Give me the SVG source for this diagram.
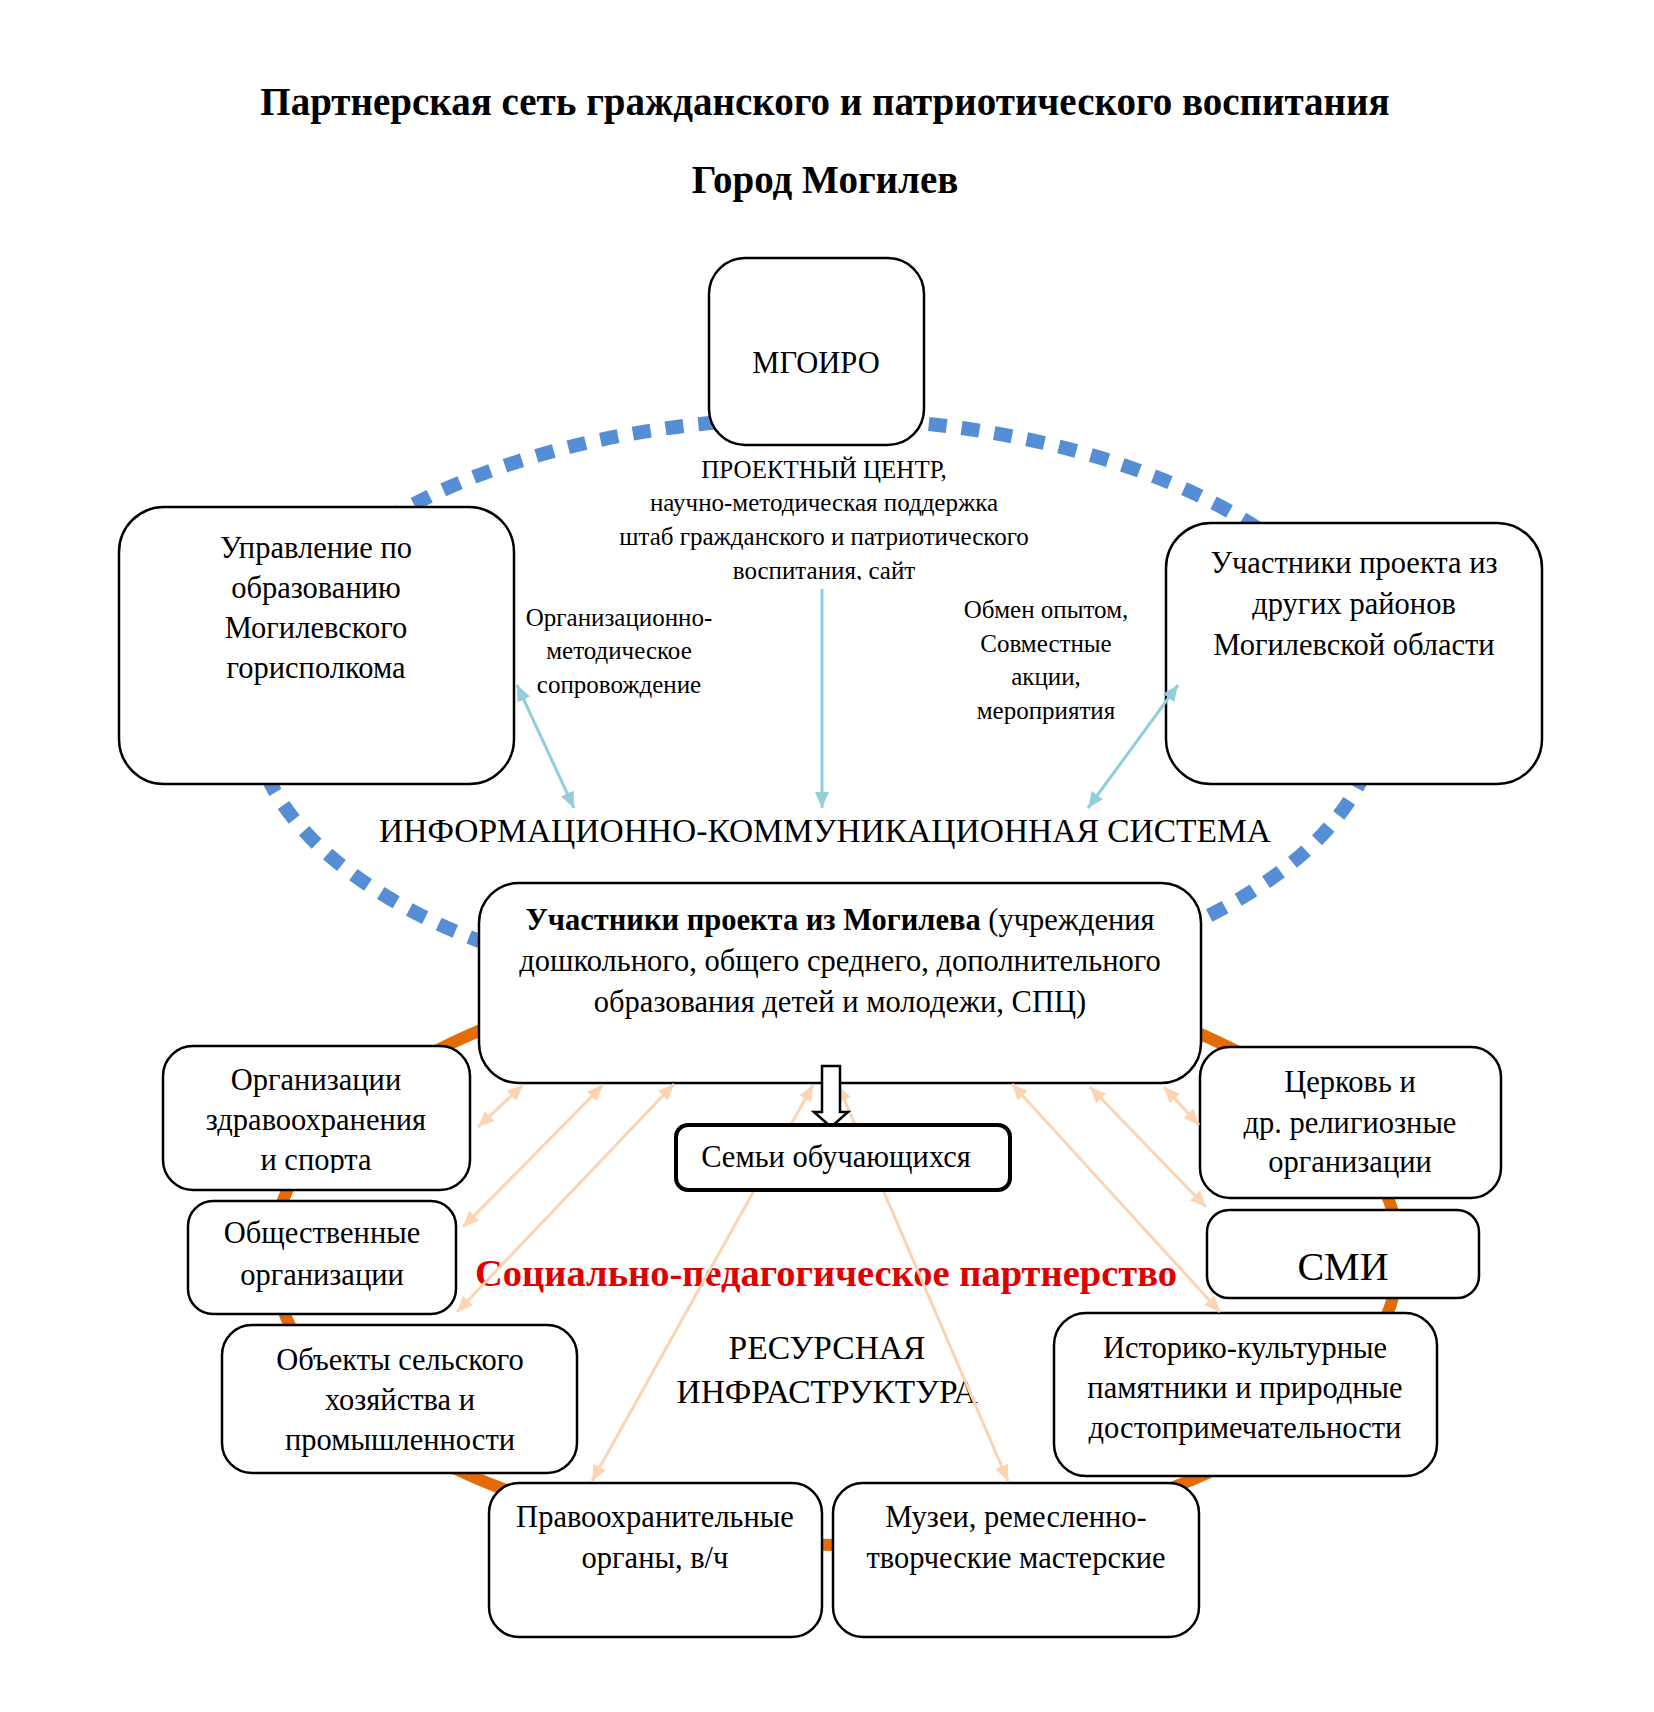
<svg xmlns="http://www.w3.org/2000/svg" width="1654" height="1712" viewBox="0 0 1654 1712">
<style>
text{font-family:"Liberation Serif","Times New Roman",serif;fill:#000;text-anchor:middle}
.t{font-size:39px;font-weight:bold}
.b{font-size:30.5px}
.s{font-size:25px}
.big{font-size:33.5px}
.box{fill:#fff;stroke:#000;stroke-width:2.5}
.blue{stroke:#92CDDC;stroke-width:3;fill:none}
.peach{stroke:#FBD4B4;stroke-width:3;fill:none}
</style>
<defs>
<marker id="ab" viewBox="0 0 16 14" refX="16" refY="7" markerWidth="16" markerHeight="14" markerUnits="userSpaceOnUse" orient="auto-start-reverse"><path d="M0,0 L16,7 L0,14 z" fill="#92CDDC"/></marker>
<marker id="ap" viewBox="0 0 16 14" refX="16" refY="7" markerWidth="16" markerHeight="14" markerUnits="userSpaceOnUse" orient="auto-start-reverse"><path d="M0,0 L16,7 L0,14 z" fill="#FBD4B4"/></marker>
<clipPath id="c1"><rect x="0" y="0" width="1654" height="580"/></clipPath>
<clipPath id="c2"><rect x="0" y="0" width="1654" height="1173"/></clipPath>
</defs>
<rect width="1654" height="1712" fill="#fff"/>
<g id="title">
<text class="t" x="825" y="115">Партнерская сеть гражданского и патриотического воспитания</text>
<text class="t" x="825" y="193">Город Могилев</text>
</g>
<g id="rings">
<ellipse cx="815" cy="708" rx="564" ry="290" fill="none" stroke="#558ED5" stroke-width="14" stroke-dasharray="18 15"/>
<ellipse cx="836" cy="1255" rx="563" ry="290" fill="none" stroke="#E36C09" stroke-width="12"/>
</g>
<g id="labels">
<g clip-path="url(#c1)">
<text class="s" x="824" y="478">ПРОЕКТНЫЙ ЦЕНТР,</text>
<text class="s" x="824" y="511">научно-методическая поддержка</text>
<text class="s" x="824" y="545">штаб гражданского и патриотического</text>
<text class="s" x="824" y="579">воспитания, сайт</text>
</g>
<text class="s" x="619" y="626">Организационно-</text>
<text class="s" x="619" y="659">методическое</text>
<text class="s" x="619" y="693">сопровождение</text>
<text class="s" x="1046" y="618">Обмен опытом,</text>
<text class="s" x="1046" y="652">Совместные</text>
<text class="s" x="1046" y="685">акции,</text>
<text class="s" x="1046" y="719">мероприятия</text>
<text class="big" x="825" y="842">ИНФОРМАЦИОННО-КОММУНИКАЦИОННАЯ СИСТЕМА</text>
<text x="826" y="1286" style="font-size:38.5px;font-weight:bold;fill:#E00000">Социально-педагогическое партнерство</text>
<text class="big" x="827" y="1359">РЕСУРСНАЯ</text>
<text class="big" x="827" y="1403">ИНФРАСТРУКТУРА</text>
</g>
<g id="mgoiro">
<rect class="box" x="709" y="258" width="215" height="187" rx="36"/>
<text class="b" x="816" y="373">МГОИРО</text>
</g>
<g id="upravlenie">
<rect class="box" x="119" y="507" width="395" height="277" rx="45"/>
<text class="b" x="316" y="558">Управление по</text>
<text class="b" x="316" y="598">образованию</text>
<text class="b" x="316" y="638">Могилевского</text>
<text class="b" x="316" y="678">горисполкома</text>
</g>
<g id="oblast">
<rect class="box" x="1166" y="523" width="376" height="261" rx="45"/>
<text class="b" x="1354" y="573">Участники проекта из</text>
<text class="b" x="1354" y="614">других районов</text>
<text class="b" x="1354" y="655">Могилевской области</text>
</g>
<g id="mogilev">
<rect class="box" x="479" y="883" width="722" height="200" rx="40"/>
<text class="b" x="840" y="930"><tspan font-weight="bold">Участники проекта из Могилева</tspan> (учреждения</text>
<text class="b" x="840" y="971">дошкольного, общего среднего, дополнительного</text>
<text class="b" x="840" y="1012">образования детей и молодежи, СПЦ)</text>
</g>
<g id="zdrav">
<rect class="box" x="163" y="1046" width="307" height="144" rx="30"/>
<g clip-path="url(#c2)">
<text class="b" x="316" y="1090">Организации</text>
<text class="b" x="316" y="1130">здравоохранения</text>
<text class="b" x="316" y="1170">и спорта</text>
</g>
</g>
<g id="obshch">
<rect class="box" x="188" y="1201" width="268" height="113" rx="25"/>
<text class="b" x="322" y="1243">Общественные</text>
<text class="b" x="322" y="1285">организации</text>
</g>
<g id="obekty">
<rect class="box" x="222" y="1325" width="355" height="148" rx="30"/>
<text class="b" x="400" y="1370">Объекты сельского</text>
<text class="b" x="400" y="1410">хозяйства и</text>
<text class="b" x="400" y="1450">промышленности</text>
</g>
<g id="pravo">
<rect class="box" x="489" y="1483" width="333" height="154" rx="30"/>
<text class="b" x="655" y="1527">Правоохранительные</text>
<text class="b" x="655" y="1568">органы, в/ч</text>
</g>
<g id="muzei">
<rect class="box" x="833" y="1483" width="366" height="154" rx="30"/>
<text class="b" x="1016" y="1527">Музеи, ремесленно-</text>
<text class="b" x="1016" y="1568">творческие мастерские</text>
</g>
<g id="cerkov">
<rect class="box" x="1200" y="1047" width="301" height="151" rx="30"/>
<text class="b" x="1350" y="1092">Церковь и</text>
<text class="b" x="1350" y="1133">др. религиозные</text>
<text class="b" x="1350" y="1172">организации</text>
</g>
<g id="smi">
<rect class="box" x="1207" y="1210" width="272" height="88" rx="22"/>
<text x="1343" y="1280" style="font-size:40px">СМИ</text>
</g>
<g id="istoriko">
<rect class="box" x="1054" y="1313" width="383" height="163" rx="32"/>
<text class="b" x="1245" y="1358">Историко-культурные</text>
<text class="b" x="1245" y="1398">памятники и природные</text>
<text class="b" x="1245" y="1438">достопримечательности</text>
</g>
<g id="connectors">
<line class="blue" x1="517" y1="685" x2="574" y2="808" marker-start="url(#ab)" marker-end="url(#ab)"/>
<line class="blue" x1="822" y1="589" x2="822" y2="808" marker-end="url(#ab)"/>
<line class="blue" x1="1178" y1="685" x2="1088" y2="808" marker-start="url(#ab)" marker-end="url(#ab)"/>
<line class="peach" x1="523" y1="1085" x2="478" y2="1127" marker-start="url(#ap)" marker-end="url(#ap)"/>
<line class="peach" x1="603" y1="1085" x2="463" y2="1227" marker-start="url(#ap)" marker-end="url(#ap)"/>
<line class="peach" x1="674" y1="1084" x2="457" y2="1312" marker-start="url(#ap)" marker-end="url(#ap)"/>
<line class="peach" x1="813" y1="1085" x2="592" y2="1481" marker-start="url(#ap)" marker-end="url(#ap)"/>
<line class="peach" x1="838" y1="1085" x2="1008" y2="1481" marker-start="url(#ap)" marker-end="url(#ap)"/>
<line class="peach" x1="1012" y1="1084" x2="1220" y2="1312" marker-start="url(#ap)" marker-end="url(#ap)"/>
<line class="peach" x1="1090" y1="1087" x2="1206" y2="1207" marker-start="url(#ap)" marker-end="url(#ap)"/>
<line class="peach" x1="1164" y1="1087" x2="1199" y2="1125" marker-start="url(#ap)" marker-end="url(#ap)"/>
</g>
<g id="arrow-down">
<path d="M822,1066 H840 V1112 H848 L831,1127 L814,1112 H822 Z" fill="#fff" stroke="#000" stroke-width="2.5" stroke-linejoin="miter"/>
</g>
<g id="semi">
<rect x="676" y="1125" width="334" height="65" rx="12" fill="#fff" stroke="#000" stroke-width="4"/>
<text class="b" x="836" y="1167">Семьи обучающихся</text>
</g>
</svg>
